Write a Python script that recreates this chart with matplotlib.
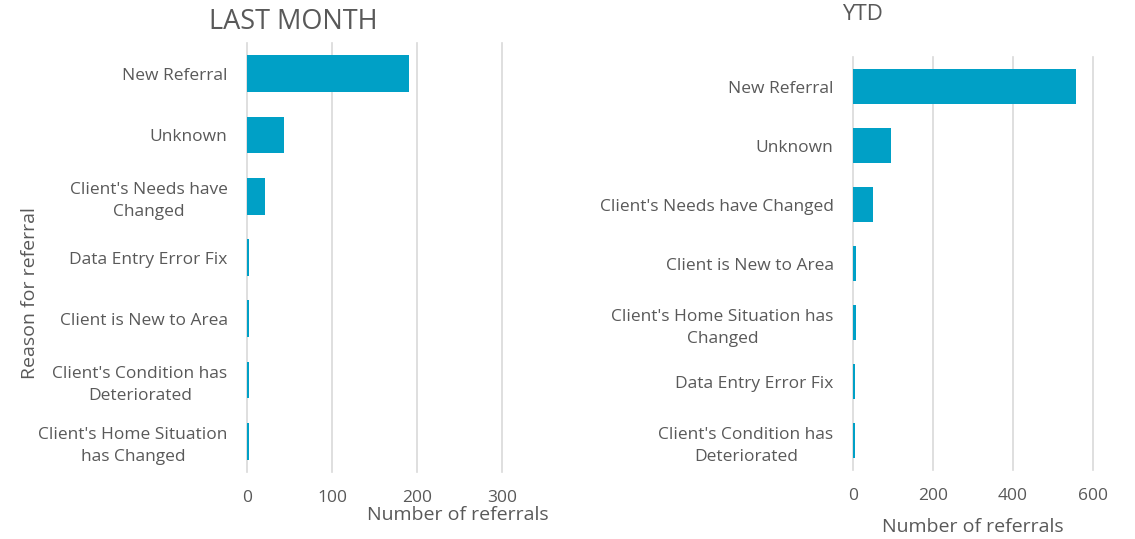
import matplotlib
matplotlib.use("Agg")
import matplotlib.pyplot as plt

plt.rcParams['font.family'] = ['Open Sans', 'DejaVu Sans']

lm_categories = ["New Referral", "Unknown", "Client's Needs have\nChanged", "Data Entry Error Fix",
                 "Client is New to Area", "Client's Condition has\nDeteriorated",
                 "Client's Home Situation\nhas Changed"]
lm_values = [190, 44, 21, 2, 2, 2, 2]
lm_ticks = [0, 100, 200, 300]

ytd_categories = ["New Referral", "Unknown", "Client's Needs have Changed", "Client is New to Area",
                  "Client's Home Situation has\nChanged", "Data Entry Error Fix",
                  "Client's Condition has\nDeteriorated"]
ytd_values = [557, 95, 50, 8, 7, 4, 4]
ytd_ticks = [0, 200, 400, 600]

BAR = '#00A0C6'
TXT = '#595959'
GRID = '#D9D9D9'

fig = plt.figure(figsize=(11.35, 5.39), dpi=100)
W, H = 1135, 539

def make_ax(x0, x1, ytop, ybot):
    return fig.add_axes([x0 / W, 1 - ybot / H, (x1 - x0) / W, (ybot - ytop) / H])

def style(ax, cats, vals, ticks):
    y = list(range(len(cats)))
    ax.barh(y, vals, height=0.6, color=BAR, zorder=3)
    ax.set_yticks(y)
    ax.set_yticklabels(cats, fontsize=12.5, color=TXT, multialignment='center', linespacing=1.5)
    ax.set_ylim(len(cats) - 0.5, -0.5)
    ax.set_xlim(ticks[0], ticks[-1])
    ax.set_xticks(ticks)
    ax.set_xticklabels([str(t) for t in ticks], fontsize=12.5, color=TXT)
    ax.tick_params(axis='y', length=0, pad=14)
    ax.tick_params(axis='x', length=0, pad=13)
    ax.grid(axis='x', color=GRID, linewidth=1.2, zorder=0)
    for gl in ax.get_xgridlines():
        gl.set_clip_on(False)
    for s in ax.spines.values():
        s.set_visible(False)

ax1 = make_ax(247, 502, 43, 472)
style(ax1, lm_categories, lm_values, lm_ticks)

ax2 = make_ax(853, 1093, 57, 470)
style(ax2, ytd_categories, ytd_values, ytd_ticks)

fig.text(293 / W, 1 - 22 / H, "LAST MONTH", fontsize=19.5, color=TXT, ha='center', va='center')
fig.text(862 / W, 1 - 14 / H, "YTD", fontsize=16, color=TXT, ha='center', va='center')
fig.text(458 / W, 1 - 515 / H, "Number of referrals", fontsize=14, color=TXT, ha='center', va='center')
fig.text(973 / W, 1 - 527 / H, "Number of referrals", fontsize=14, color=TXT, ha='center', va='center')
fig.text(30 / W, 1 - 293 / H, "Reason for referral", fontsize=14, color=TXT, ha='center', va='center',
         rotation=90)

fig.savefig("out.png", dpi=100, facecolor='white')
